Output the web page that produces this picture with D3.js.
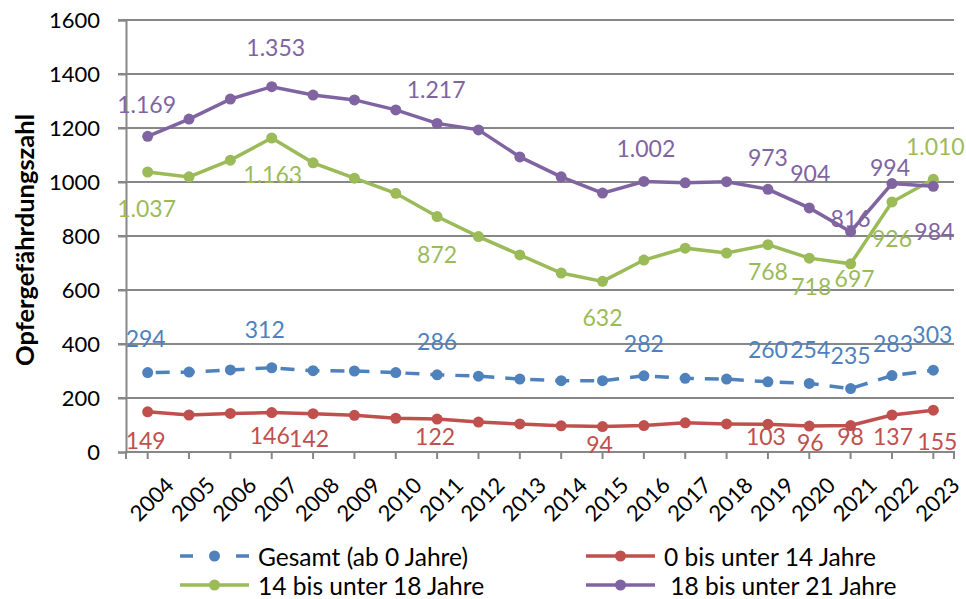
<!DOCTYPE html>
<html><head><meta charset="utf-8">
<script src="https://cdn.jsdelivr.net/npm/d3@7/dist/d3.min.js"></script>
<style>
body{margin:0;background:#fff;}
svg{display:block;font-family:Lato,"Open Sans",sans-serif;}
</style></head>
<body><svg id="c" width="966" height="599"></svg>
<script>
const years = ["2004","2005","2006","2007","2008","2009","2010","2011","2012","2013","2014","2015","2016","2017","2018","2019","2020","2021","2022","2023"];
const gesamt = [294,296,304,312,301,300,294,286,281,270,264,264,282,273,270,260,254,235,283,303];
const bis14  = [149,137,143,146,142,136,125,122,111,104,97,94,98,108,104,103,96,98,137,155];
const bis18  = [1037,1019,1081,1163,1071,1014,958,872,798,730,663,632,711,755,737,768,718,697,926,1010];
const bis21  = [1169,1233,1307,1353,1322,1304,1267,1217,1193,1093,1019,959,1002,997,1001,973,904,816,994,984];
const seriesNames = ["Gesamt (ab 0 Jahre)","0 bis unter 14 Jahre","14 bis unter 18 Jahre"," 18 bis unter 21 Jahre"];
const yTicks = [0,200,400,600,800,1000,1200,1400,1600];
const yTitle = "Opfergefährdungszahl";

// years that carry a data label, per series
const lblGesamt = ["2004","2007","2011","2016","2019","2020","2021","2022","2023"];
const lbl14 = ["2004","2007","2008","2011","2015","2019","2020","2021","2022","2023"];
const lbl18 = ["2004","2007","2011","2015","2019","2020","2021","2022","2023"];
const lbl21 = ["2004","2007","2011","2016","2019","2020","2021","2022","2023"];

// layout: label offsets (dx, dy) relative to the point
const offGesamt = [[-2,-35],[-7,-39],[0,-34],[0,-33],[0,-33],[1,-34],[0,-34],[1,-33],[-1,-36]];
const off14 = [[-2,28],[-2,22],[-4,24],[-2,17],[-3,17],[-2,12],[1,16],[0,10],[1,21],[4,31]];
const off18 = [[-1,36],[1,36],[0,37],[0,36],[0,26],[2,28],[4,14],[0,36],[2,-33]];
const off21 = [[-1,-32],[4,-40],[-1,-34],[2,-33],[0,-32],[1,-35],[0,-14],[-2,-17],[1,45]];

const colors = ["#4F81BD","#C0504D","#9BBB59","#8064A2"];
const grid = "#878787";

const svg = d3.select("#c");
const xb = d3.scaleBand().domain(years).range([127,954]).paddingInner(0).paddingOuter(0);
const X = d => xb(d) + xb.bandwidth()/2;
const y = d3.scaleLinear().domain([0,1600]).range([452,20]);
const loc = d3.formatLocale({decimal:",",thousands:".",grouping:[3],currency:["","€"]});
const fmt = loc.format(",d");

function fitFont(sel, target, base){
  sel.attr("font-size", base);
  const w = sel.node().getComputedTextLength();
  const fs = base * target / w;
  sel.attr("font-size", fs);
  return fs;
}

// gridlines
svg.append("g").selectAll("line").data(yTicks.filter(t=>t>0)).join("line")
  .attr("x1",118).attr("x2",954).attr("y1",d=>y(d)).attr("y2",d=>y(d))
  .attr("stroke",grid).attr("stroke-width",2);

// y axis
const ya = svg.append("g").attr("transform","translate(126,0)")
  .call(d3.axisLeft(y).tickValues(yTicks).tickSize(8).tickPadding(18).tickFormat(d3.format("d")));
ya.select(".domain").attr("stroke",grid).attr("stroke-width",2);
ya.selectAll(".tick line").attr("stroke",grid).attr("stroke-width",2);
ya.selectAll("text").attr("font-size",22).attr("fill","#000").attr("font-family","Lato");

// x axis
const xa = svg.append("g").attr("transform","translate(0,452)")
  .call(d3.axisBottom(xb).tickSize(7).tickSizeOuter(7).tickPadding(8));
xa.select(".domain").attr("stroke",grid).attr("stroke-width",2).attr("d","M126,7V0H954V7");
xa.selectAll(".tick line").attr("stroke",grid).attr("stroke-width",2);
xa.selectAll(".tick text").attr("font-size",22).attr("fill","#000").attr("font-family","Lato")
  .attr("text-anchor","end").attr("dy",null).attr("dominant-baseline","central")
  .attr("transform","translate(11,18) rotate(-45)");

// y title
const tt = svg.append("text").attr("transform","translate(24,240) rotate(-90)")
  .attr("text-anchor","middle").attr("dominant-baseline","central")
  .attr("font-weight","bold").text(yTitle);
fitFont(tt, 252, 20);

const all = [gesamt,bis14,bis18,bis21];
const line = d3.line().x((d,i)=>X(years[i])).y(d=>y(d));
all.forEach((s,k)=>{
  const g = svg.append("g");
  g.append("path").datum(s).attr("d",line).attr("fill","none")
    .attr("stroke",colors[k]).attr("stroke-width",3.5)
    .attr("stroke-dasharray", k===0 ? "14,11" : null)
    .attr("stroke-dashoffset", k===0 ? -8 : null);
  g.selectAll("circle").data(s).join("circle")
    .attr("cx",(d,i)=>X(years[i])).attr("cy",d=>y(d)).attr("r",5.5).attr("fill",colors[k]);
});

// labels
const lbls = [lblGesamt,lbl14,lbl18,lbl21];
const offs = [offGesamt,off14,off18,off21];
lbls.forEach((L,k)=>{
  svg.append("g").selectAll("text").data(L).join("text")
    .attr("x",(yr,j)=>X(yr)+offs[k][j][0])
    .attr("y",(yr,j)=>y(all[k][years.indexOf(yr)])+offs[k][j][1])
    .attr("text-anchor","middle").attr("dominant-baseline","central")
    .attr("font-size",23).attr("fill",colors[k])
    .text(yr=>fmt(all[k][years.indexOf(yr)]));
});

// legend
const legPos = [[180,556],[586,556],[180,585],[586,585]];
let legFs = null;
seriesNames.forEach((n,k)=>{
  const [lx,ly] = legPos[k];
  const g = svg.append("g");
  g.append("line").attr("x1",lx).attr("x2",lx+69).attr("y1",ly).attr("y2",ly)
    .attr("stroke",colors[k]).attr("stroke-width",3.5)
    .attr("stroke-dasharray",k===0?"13,43":null);
  g.append("circle").attr("cx",lx+34.5).attr("cy",ly).attr("r",5.5).attr("fill",colors[k]);
  const t = g.append("text").attr("x",lx+78).attr("y",ly).attr("dominant-baseline","central")
    .attr("fill","#000").style("white-space","pre").text(n);
  if(k===0){ legFs = fitFont(t, 210, 20); } else { t.attr("font-size", legFs); }
});
</script></body></html>
